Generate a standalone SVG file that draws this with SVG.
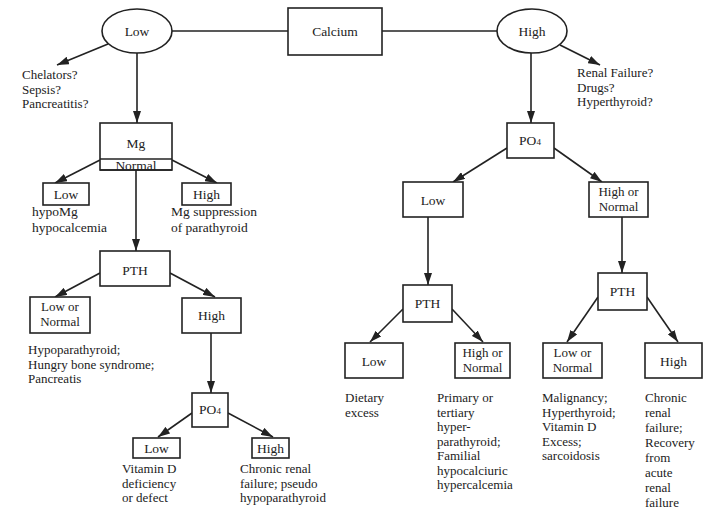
<svg xmlns="http://www.w3.org/2000/svg" width="709" height="520" viewBox="0 0 709 520">
<defs>
<style>
text{font-family:"Liberation Serif","Times New Roman",serif;font-size:13.5px;fill:#222}
.n text,text.n{font-size:13px}
.c{text-anchor:middle}
.b{fill:#fff;stroke:#222;stroke-width:1.6}
.e{stroke:#222;stroke-width:1.6;fill:none}
.a{marker-end:url(#ah)}
.sub{font-size:9px}
</style>
<marker id="ah" viewBox="0 0 12 8" refX="12" refY="4" markerWidth="12" markerHeight="8" orient="auto" markerUnits="userSpaceOnUse"><path d="M0,0 L12,4 L0,8 z" fill="#222"/></marker>
</defs>
<rect width="709" height="520" fill="#fff"/>
<g id="connectors">
<line class="e" x1="172" y1="31" x2="288" y2="31"/>
<line class="e" x1="382" y1="31" x2="497" y2="31"/>
<line class="e a" x1="108" y1="44" x2="57" y2="65"/>
<line class="e a" x1="560" y1="45" x2="600" y2="65"/>
<line class="e a" x1="137" y1="53" x2="137" y2="123"/>
<line class="e a" x1="531" y1="53" x2="531" y2="123"/>
<line class="e a" x1="100" y1="160" x2="55" y2="183"/>
<line class="e a" x1="172" y1="160" x2="217" y2="183"/>
<line class="e a" x1="136" y1="170" x2="136" y2="251"/>
<line class="e a" x1="100" y1="273" x2="55" y2="297"/>
<line class="e a" x1="170" y1="273" x2="215" y2="297"/>
<line class="e a" x1="211" y1="333" x2="211" y2="393"/>
<line class="e a" x1="192" y1="413" x2="158" y2="437"/>
<line class="e a" x1="228" y1="413" x2="273" y2="437"/>
<line class="e a" x1="507" y1="148" x2="453" y2="182"/>
<line class="e a" x1="554" y1="148" x2="602" y2="182"/>
<line class="e a" x1="428" y1="217" x2="428" y2="285"/>
<line class="e a" x1="622" y1="217" x2="622" y2="273"/>
<line class="e a" x1="403" y1="309" x2="370" y2="342"/>
<line class="e a" x1="452" y1="309" x2="483" y2="342"/>
<line class="e a" x1="598" y1="297" x2="567" y2="342"/>
<line class="e a" x1="647" y1="297" x2="678" y2="342"/>
</g>
<g id="calcium"><rect class="b" x="288" y="8" width="94" height="47"/><text class="c" x="335" y="36">Calcium</text></g>
<g id="ca-low"><ellipse class="b" cx="137" cy="31" rx="35" ry="22"/><text class="c" x="137" y="36">Low</text></g>
<g id="ca-high"><ellipse class="b" cx="532" cy="31" rx="35" ry="22"/><text class="c" x="532" y="36">High</text></g>
<g id="low-causes" class="n"><text x="22" y="79">Chelators?</text><text x="22" y="93.5">Sepsis?</text><text x="22" y="108">Pancreatitis?</text></g>
<g id="high-causes" class="n"><text x="577" y="77">Renal Failure?</text><text x="577" y="91.5">Drugs?</text><text x="577" y="106">Hyperthyroid?</text></g>
<g id="mg"><rect class="b" x="100" y="123" width="72" height="47"/><line class="e" x1="100" y1="159" x2="172" y2="159"/><text class="c" x="136" y="148">Mg</text><text class="c" x="136" y="170">Normal</text><line class="e" x1="100" y1="170" x2="172" y2="170"/></g>
<g id="mg-low"><rect class="b" x="43" y="183" width="46" height="22"/><text class="c" x="66" y="199">Low</text></g>
<g id="mg-high"><rect class="b" x="182" y="183" width="49" height="22"/><text class="c" x="206.5" y="199">High</text></g>
<g id="mg-low-note"><text x="32" y="216">hypoMg</text><text x="32" y="232">hypocalcemia</text></g>
<g id="mg-high-note"><text x="171" y="216">Mg suppression</text><text x="171" y="232">of parathyroid</text></g>
<g id="pth-left"><rect class="b" x="100" y="251" width="70" height="35"/><text class="c" x="135" y="275">PTH</text></g>
<g id="pth-left-lown" class="n"><rect class="b" x="30" y="297" width="60" height="36"/><text class="c" x="60" y="311">Low or</text><text class="c" x="60" y="326">Normal</text></g>
<g id="pth-left-high"><rect class="b" x="182" y="298" width="59" height="35"/><text class="c" x="211.5" y="320">High</text></g>
<g id="pth-left-note" class="n"><text x="28" y="354">Hypoparathyroid;</text><text x="28" y="368.5">Hungry bone syndrome;</text><text x="28" y="383">Pancreatis</text></g>
<g id="po4-left"><rect class="b" x="192" y="393" width="36" height="34"/><text class="c" x="210" y="414">PO<tspan class="sub">4</tspan></text></g>
<g id="po4-left-low"><rect class="b" x="133" y="438" width="47" height="20"/><text class="c" x="156.5" y="453">Low</text></g>
<g id="po4-left-high"><rect class="b" x="252" y="438" width="37" height="20"/><text class="c" x="270.5" y="453">High</text></g>
<g id="po4-left-low-note" class="n"><text x="122" y="473">Vitamin D</text><text x="122" y="487.5">deficiency</text><text x="122" y="502">or defect</text></g>
<g id="po4-left-high-note" class="n"><text x="240" y="473">Chronic renal</text><text x="240" y="487.5">failure; pseudo</text><text x="240" y="502">hypoparathyroid</text></g>
<g id="po4-right"><rect class="b" x="507" y="123" width="47" height="35"/><text class="c" x="530" y="145">PO<tspan class="sub">4</tspan></text></g>
<g id="po4-right-low"><rect class="b" x="403" y="182" width="60" height="35"/><text class="c" x="433" y="205">Low</text></g>
<g id="po4-right-hn" class="n"><rect class="b" x="589" y="182" width="59" height="35"/><text class="c" x="618.5" y="196">High or</text><text class="c" x="618.5" y="211">Normal</text></g>
<g id="pth-mid"><rect class="b" x="403" y="285" width="49" height="37"/><text class="c" x="427.5" y="308">PTH</text></g>
<g id="pth-right"><rect class="b" x="598" y="273" width="49" height="37"/><text class="c" x="622.5" y="296">PTH</text></g>
<g id="pth-mid-low"><rect class="b" x="345" y="343" width="58" height="35"/><text class="c" x="374" y="366">Low</text></g>
<g id="pth-mid-hn" class="n"><rect class="b" x="455" y="343" width="55" height="35"/><text class="c" x="482.5" y="357">High or</text><text class="c" x="482.5" y="372">Normal</text></g>
<g id="pth-right-ln" class="n"><rect class="b" x="543" y="343" width="59" height="35"/><text class="c" x="572.5" y="357">Low or</text><text class="c" x="572.5" y="372">Normal</text></g>
<g id="pth-right-high"><rect class="b" x="645" y="343" width="57" height="35"/><text class="c" x="673.5" y="366">High</text></g>
<g id="note-dietary" class="n"><text x="345" y="402">Dietary</text><text x="345" y="416.5">excess</text></g>
<g id="note-primary" class="n"><text x="437" y="402">Primary or</text><text x="437" y="416.5">tertiary</text><text x="437" y="431">hyper-</text><text x="437" y="445.5">parathyroid;</text><text x="437" y="460">Familial</text><text x="437" y="474.5">hypocalciuric</text><text x="437" y="489">hypercalcemia</text></g>
<g id="note-malignancy" class="n"><text x="542" y="402">Malignancy;</text><text x="542" y="416.5">Hyperthyroid;</text><text x="542" y="431">Vitamin D</text><text x="542" y="445.5">Excess;</text><text x="542" y="460">sarcoidosis</text></g>
<g id="note-chronic" class="n"><text x="645" y="402">Chronic</text><text x="645" y="417">renal</text><text x="645" y="432">failure;</text><text x="645" y="447">Recovery</text><text x="645" y="462">from</text><text x="645" y="477">acute</text><text x="645" y="492">renal</text><text x="645" y="507">failure</text></g>
</svg>
